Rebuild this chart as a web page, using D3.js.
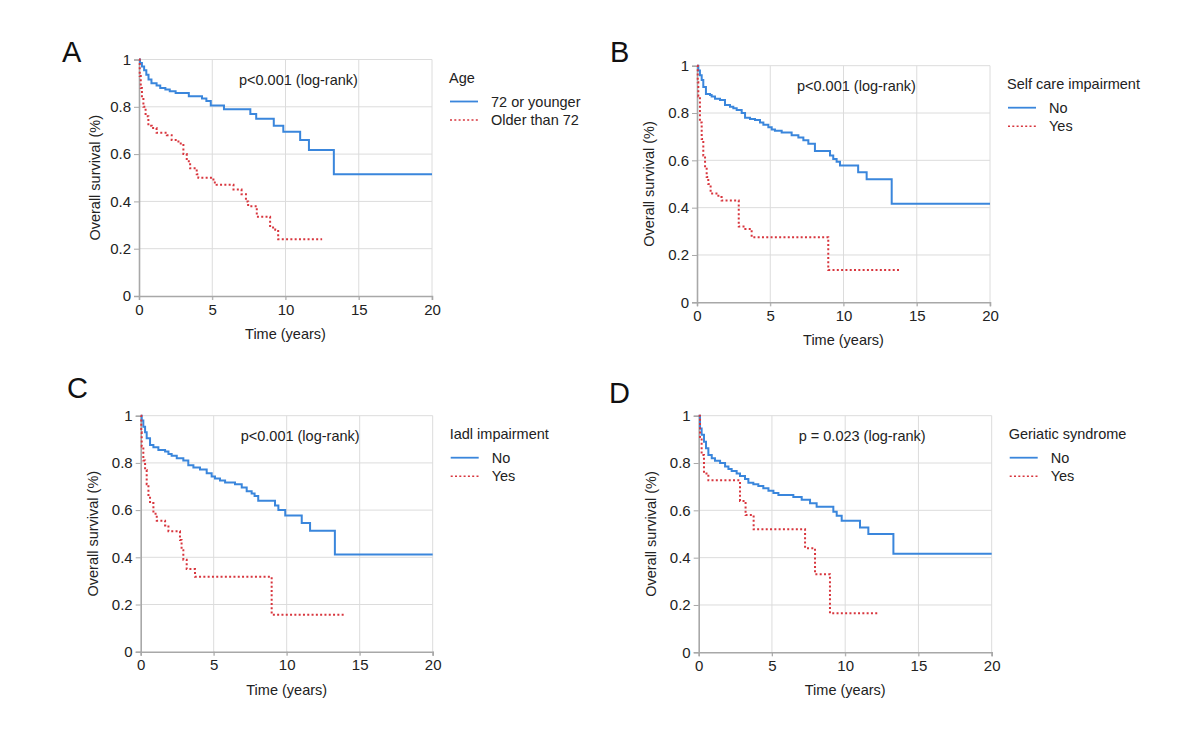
<!DOCTYPE html>
<html>
<head>
<meta charset="utf-8">
<script src="https://cdn.jsdelivr.net/npm/d3@7/dist/d3.min.js"></script>
<style>
  body { margin: 0; background: #fff; }
  svg { display: block; font-family: "Liberation Sans", Arial, sans-serif; }
</style>
</head>
<body>
<svg id="chart" width="1200" height="752"></svg>
<script>
// 数据：每组是 时间(年) 与 生存率
// ============================
const panelLetters = ['A', 'B', 'C', 'D']
const legendTitles = ['Age', 'Self care impairment', 'Iadl impairment', 'Geriatic syndrome']
const pTexts = ['p<0.001 (log-rank)', 'p<0.001 (log-rank)', 'p<0.001 (log-rank)', 'p = 0.023 (log-rank)']
const seriesNames = [
  ['72 or younger', 'Older than 72'],
  ['No', 'Yes'],
  ['No', 'Yes'],
  ['No', 'Yes']
]
const xTicks = [0, 5, 10, 15, 20]
const yTicks = [0, 0.2, 0.4, 0.6, 0.8, 1]

const ageYoungT = [0, 0.07, 0.2, 0.35, 0.5, 0.65, 0.85, 1.2, 1.45, 1.8, 2.1, 2.5, 3.4, 4.3, 4.6, 4.9, 5.8, 7.6, 8.0, 9.2, 9.85, 11.0, 11.6, 13.3, 20]
const ageYoungS = [1, 0.985, 0.97, 0.955, 0.935, 0.915, 0.9, 0.89, 0.88, 0.873, 0.866, 0.858, 0.845, 0.835, 0.825, 0.805, 0.79, 0.77, 0.75, 0.72, 0.695, 0.66, 0.617, 0.515, 0.515]
const ageOldT = [0, 0.05, 0.12, 0.2, 0.3, 0.45, 0.64, 0.87, 1.2, 1.9, 2.23, 2.69, 3.03, 3.26, 3.49, 3.94, 4.05, 5.08, 5.3, 6.45, 7.0, 7.3, 7.45, 8.04, 8.95, 9.3, 9.5, 12.5]
const ageOldS = [1, 0.93, 0.88, 0.84, 0.8, 0.76, 0.72, 0.71, 0.69, 0.68, 0.66, 0.645, 0.6, 0.57, 0.54, 0.515, 0.5, 0.48, 0.47, 0.45, 0.43, 0.4, 0.38, 0.335, 0.29, 0.28, 0.24, 0.24]

const selfNoT = [0, 0.09, 0.2, 0.32, 0.43, 0.61, 0.89, 1.0, 1.23, 1.57, 1.91, 2.25, 2.48, 2.71, 3.05, 3.28, 3.62, 3.96, 4.3, 4.53, 4.87, 5.1, 5.32, 5.78, 6.46, 6.92, 7.26, 7.6, 8.05, 9.08, 9.3, 9.53, 9.76, 11.0, 11.58, 13.29, 20]
const selfNoS = [1, 0.98, 0.96, 0.94, 0.91, 0.88, 0.876, 0.87, 0.86, 0.855, 0.834, 0.827, 0.82, 0.813, 0.8, 0.78, 0.775, 0.77, 0.76, 0.75, 0.74, 0.73, 0.725, 0.718, 0.706, 0.697, 0.685, 0.67, 0.64, 0.62, 0.606, 0.594, 0.578, 0.55, 0.52, 0.417, 0.417]
const selfYesT = [0, 0.05, 0.09, 0.2, 0.32, 0.43, 0.55, 0.66, 0.77, 0.93, 1.46, 1.68, 2.85, 3.3, 3.73, 8.96, 13.9]
const selfYesS = [1, 0.93, 0.87, 0.76, 0.69, 0.62, 0.57, 0.53, 0.5, 0.46, 0.445, 0.43, 0.32, 0.31, 0.275, 0.137, 0.137]

const iadlNoT = [0, 0.07, 0.18, 0.3, 0.41, 0.64, 0.87, 1.21, 1.67, 1.9, 2.12, 2.47, 2.92, 3.26, 3.61, 4.06, 4.52, 4.86, 5.09, 5.43, 5.78, 6.46, 6.92, 7.26, 7.6, 7.8, 8.05, 9.2, 9.43, 9.9, 11.03, 11.6, 13.3, 20]
const iadlNoS = [1, 0.98, 0.953, 0.93, 0.904, 0.876, 0.866, 0.855, 0.848, 0.838, 0.83, 0.82, 0.81, 0.79, 0.78, 0.772, 0.756, 0.742, 0.734, 0.725, 0.717, 0.71, 0.696, 0.68, 0.67, 0.66, 0.64, 0.62, 0.6, 0.577, 0.545, 0.512, 0.412, 0.412]
const iadlYesT = [0, 0.04, 0.07, 0.18, 0.3, 0.41, 0.53, 0.64, 0.87, 1.1, 1.67, 1.9, 2.69, 2.8, 2.92, 3.15, 3.72, 8.97, 13.9]
const iadlYesS = [1, 0.93, 0.87, 0.81, 0.77, 0.71, 0.657, 0.63, 0.585, 0.555, 0.535, 0.51, 0.473, 0.43, 0.39, 0.35, 0.318, 0.157, 0.157]

const geriNoT = [0, 0.09, 0.2, 0.36, 0.5, 0.66, 0.89, 1.11, 1.46, 1.8, 2.03, 2.25, 2.59, 2.82, 3.16, 3.39, 3.73, 4.07, 4.41, 4.76, 5.1, 5.44, 6.46, 7.03, 7.6, 8.05, 9.19, 9.42, 9.76, 11.01, 11.58, 13.29, 20]
const geriNoS = [1, 0.946, 0.92, 0.89, 0.862, 0.834, 0.82, 0.81, 0.8, 0.785, 0.775, 0.766, 0.756, 0.745, 0.732, 0.717, 0.71, 0.703, 0.693, 0.683, 0.673, 0.665, 0.656, 0.645, 0.63, 0.615, 0.594, 0.577, 0.556, 0.528, 0.5, 0.417, 0.417]
const geriYesT = [0, 0.09, 0.2, 0.36, 0.66, 2.82, 3.2, 3.75, 7.26, 7.94, 8.96, 12.3]
const geriYesS = [1, 0.91, 0.834, 0.756, 0.727, 0.64, 0.58, 0.52, 0.44, 0.33, 0.165, 0.165]

const timesList = [
  [ageYoungT, ageOldT],
  [selfNoT, selfYesT],
  [iadlNoT, iadlYesT],
  [geriNoT, geriYesT]
]
const survList = [
  [ageYoungS, ageOldS],
  [selfNoS, selfYesS],
  [iadlNoS, iadlYesS],
  [geriNoS, geriYesS]
]

// 版面
// ====
const panels = [
  { left: 139, top: 59.5, width: 293, height: 236.5, labelX: 62, labelY: 62 },
  { left: 697, top: 65.7, width: 293, height: 236.6, labelX: 610, labelY: 62 },
  { left: 140.7, top: 415.7, width: 292, height: 236, labelX: 67, labelY: 398 },
  { left: 698.7, top: 415.7, width: 293, height: 236.6, labelX: 609, labelY: 403 }
]

const styles = {
  blue: '#3a86dc',
  red: '#d8363e',
  grid: '#dcdcdc',
  axis: '#a8a8a8',
  text: '#222',
  fontSize: 14.5
}

/**
 * 绘制一个面板
 * @param  {Object} svg 选择集对象
 * @param  {Number} i   面板序号
 * @return {void}
 */
function drawPanel(svg, i) {
  const p = panels[i]
  const g = svg.append('g')
    .attr('transform', `translate(${p.left},${p.top})`)

  const x = d3.scaleLinear().domain([0, 20]).range([0, p.width])
  const y = d3.scaleLinear().domain([0, 1]).range([p.height, 0])

  // 网格线
  g.append('g')
    .selectAll('line')
    .data(xTicks.slice(1))
    .join('line')
    .attr('x1', d => x(d)).attr('x2', d => x(d))
    .attr('y1', 0).attr('y2', p.height + 4)
    .attr('stroke', styles.grid)
    .attr('stroke-width', 1)

  g.append('g')
    .selectAll('line')
    .data(yTicks.slice(1))
    .join('line')
    .attr('x1', 0).attr('x2', p.width)
    .attr('y1', d => y(d)).attr('y2', d => y(d))
    .attr('stroke', styles.grid)
    .attr('stroke-width', 1)

  // 坐标轴
  const xAxis = g.append('g')
    .attr('transform', `translate(0,${p.height})`)
    .call(d3.axisBottom(x).tickValues(xTicks).tickSize(4).tickPadding(4).tickFormat(d3.format('d')))
  const yAxis = g.append('g')
    .call(d3.axisLeft(y).tickValues(yTicks).tickSize(5).tickPadding(3).tickFormat(d => d === 0 || d === 1 ? d : d.toFixed(1)))

  ;[xAxis, yAxis].forEach(a => {
    a.select('.domain').attr('stroke', styles.axis).attr('stroke-width', 1.6)
    a.selectAll('.tick line').attr('stroke', styles.axis)
    a.selectAll('.tick text')
      .attr('fill', styles.text)
      .attr('font-size', 15)
      .attr('font-family', '"Liberation Sans", Arial, sans-serif')
  })

  // 生存曲线
  const line = d3.line()
    .x(d => x(d[0]))
    .y(d => y(d[1]))
    .curve(d3.curveStepAfter)

  const colors = [styles.blue, styles.red]
  const dashes = [null, '2,2.3']
  timesList[i].forEach((times, k) => {
    const pts = times.map((t, j) => [t, survList[i][k][j]])
    g.append('path')
      .datum(pts)
      .attr('d', line)
      .attr('fill', 'none')
      .attr('stroke', colors[k])
      .attr('stroke-width', 2)
      .attr('stroke-dasharray', dashes[k])
  })

  // p 值
  g.append('text')
    .attr('x', 100)
    .attr('y', 25)
    .attr('font-size', styles.fontSize)
    .attr('fill', styles.text)
    .text(pTexts[i])

  // 坐标轴标题
  g.append('text')
    .attr('x', p.width / 2)
    .attr('y', p.height + 43)
    .attr('text-anchor', 'middle')
    .attr('font-size', styles.fontSize)
    .attr('fill', styles.text)
    .text('Time (years)')

  g.append('text')
    .attr('transform', `translate(${-(i === 0 ? 44 : 48)},${p.height / 2}) rotate(-90)`)
    .attr('dy', '.35em')
    .attr('text-anchor', 'middle')
    .attr('font-size', styles.fontSize)
    .attr('fill', styles.text)
    .text('Overall survival (%)')

  // 图例
  const lg = g.append('g')
    .attr('transform', `translate(${p.width + 17},0)`)
  lg.append('text')
    .attr('y', 23)
    .attr('font-size', styles.fontSize)
    .attr('fill', styles.text)
    .text(legendTitles[i])

  seriesNames[i].forEach((name, k) => {
    const yy = 42 + k * 18.5
    lg.append('line')
      .attr('x1', 1).attr('x2', 29)
      .attr('y1', yy).attr('y2', yy)
      .attr('stroke', colors[k])
      .attr('stroke-width', k === 0 ? 1.8 : 1.6)
      .attr('stroke-dasharray', dashes[k])
    lg.append('text')
      .attr('x', 42)
      .attr('y', yy + 5)
      .attr('font-size', styles.fontSize)
      .attr('fill', styles.text)
      .text(name)
  })

  // 面板字母
  svg.append('text')
    .attr('x', p.labelX)
    .attr('y', p.labelY)
    .attr('font-size', 29)
    .attr('fill', '#111')
    .text(panelLetters[i])
}

const svg = d3.select('#chart')
svg.append('rect').attr('width', 1200).attr('height', 752).attr('fill', '#fff')
panels.forEach((p, i) => drawPanel(svg, i))
</script>
</body>
</html>
